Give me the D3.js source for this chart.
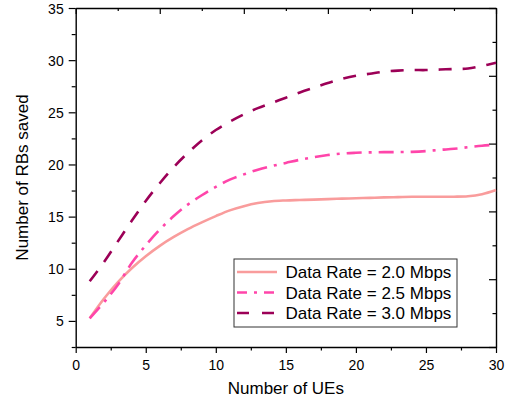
<!DOCTYPE html>
<html>
<head>
<meta charset="utf-8">
<script src="https://cdn.jsdelivr.net/npm/d3@7"></script>
<style>
  body { margin: 0; background: #fff; }
  text { font-family: "Liberation Sans", Arial, sans-serif; fill: #000; }
</style>
</head>
<body>
<svg id="chart" width="509" height="402"></svg>
<script>
// number of UEs
var ues = d3.range(1, 31);

// RBs saved, one array per data rate
var rate20 = [5.25, 7.1, 8.7, 10.05, 11.2, 12.2, 13.05, 13.8, 14.45, 15.05,
  15.6, 16.0, 16.3, 16.48, 16.55, 16.59, 16.63, 16.68, 16.72, 16.76,
  16.8, 16.84, 16.87, 16.9, 16.91, 16.91, 16.91, 16.95, 17.15, 17.55];
var rate25 = [5.25, 6.75, 8.45, 10.55, 12.25, 13.75, 15.05, 16.15, 17.05, 17.85,
  18.55, 19.05, 19.5, 19.85, 20.15, 20.45, 20.7, 20.9, 21.05, 21.12,
  21.16, 21.18, 21.19, 21.21, 21.28, 21.4, 21.5, 21.65, 21.8, 21.9];
var rate30 = [8.8, 10.6, 12.6, 14.6, 16.5, 18.2, 19.75, 21.1, 22.3, 23.3,
  24.1, 24.8, 25.4, 25.9, 26.4, 26.9, 27.35, 27.8, 28.2, 28.5,
  28.7, 28.9, 29.0, 29.05, 29.05, 29.1, 29.15, 29.2, 29.45, 29.75];

var seriesNames = ["Data Rate = 2.0 Mbps", "Data Rate = 2.5 Mbps", "Data Rate = 3.0 Mbps"];
var xTicks = [0, 5, 10, 15, 20, 25, 30];
var yTicks = [5, 10, 15, 20, 25, 30, 35];

var series = [
  { name: seriesNames[0], values: rate20, color: "#f99c9c", dash: null },
  { name: seriesNames[1], values: rate25, color: "#ff45aa", dash: "15,7,3,7" },
  { name: seriesNames[2], values: rate30, color: "#9c0057", dash: "13,11" }
];

var svg = d3.select("#chart");
var mLeft = 75.7, mRight = 496, mTop = 8, mBottom = 347;

var x = d3.scaleLinear().domain([0, 30]).range([mLeft, mRight]);
var y = d3.scaleLinear().domain([2.5, 35]).range([mBottom, mTop]);

// opposite axes have 10 divisions of their own
var xTop = d3.scaleLinear().domain([0, 10]).range([mLeft, mRight]);
var yRight = d3.scaleLinear().domain([0, 10]).range([mBottom, mTop]);

var axisColor = "#000";

// bottom axis
var gx = svg.append("g").attr("transform", "translate(0," + mBottom + ")");
gx.call(d3.axisBottom(x).tickValues(d3.range(0, 30.1, 2.5)).tickSize(3.5).tickSizeOuter(0).tickFormat(""));
gx.selectAll(".tick").filter(d => xTicks.includes(d)).select("line").attr("y2", 6);
gx.selectAll(".tick").filter(d => xTicks.includes(d)).append("text")
  .attr("y", 23).attr("text-anchor", "middle").style("font-size", "14px")
  .text(d => d);

// left axis
var gy = svg.append("g").attr("transform", "translate(" + mLeft + ",0)");
gy.call(d3.axisLeft(y).tickValues(d3.range(2.5, 35.1, 2.5)).tickSize(4).tickSizeOuter(0).tickFormat(""));
gy.selectAll(".tick").filter(d => yTicks.includes(d)).select("line").attr("x2", -7);
gy.selectAll(".tick").filter(d => yTicks.includes(d)).append("text")
  .attr("x", -12).attr("dy", "0.36em").attr("text-anchor", "end").style("font-size", "14px")
  .text(d => d);

// top axis, ticks inward
var gt = svg.append("g").attr("transform", "translate(0," + mTop + ")");
gt.call(d3.axisBottom(xTop).ticks(10).tickSize(3).tickSizeOuter(0).tickFormat(""));
gt.selectAll(".tick").filter(d => d % 2 === 0).select("line").attr("y2", 6);

// right axis, ticks inward
var gr = svg.append("g").attr("transform", "translate(" + mRight + ",0)");
gr.call(d3.axisLeft(yRight).ticks(10).tickSize(3.5).tickSizeOuter(0).tickFormat(""));
gr.selectAll(".tick").filter(d => d % 2 === 0).select("line").attr("x2", -7);

svg.selectAll(".domain").attr("stroke", axisColor).attr("stroke-width", 1.4);
svg.selectAll(".tick line").attr("stroke", axisColor).attr("stroke-width", 1.2);

// axis titles
svg.append("text").attr("x", (mLeft + mRight) / 2).attr("y", 394)
  .attr("text-anchor", "middle").style("font-size", "17px").text("Number of UEs");
svg.append("text").attr("transform", "translate(28," + ((mTop + mBottom) / 2) + ") rotate(-90)")
  .attr("text-anchor", "middle").style("font-size", "17px").text("Number of RBs saved");

// curves
var line = d3.line()
  .x((d, i) => x(ues[i]))
  .y(d => y(d))
  .curve(d3.curveCatmullRom.alpha(0.5));

svg.append("g").selectAll("path").data(series).join("path")
  .attr("d", d => line(d.values))
  .attr("fill", "none")
  .attr("stroke", d => d.color)
  .attr("stroke-width", 2.6)
  .attr("stroke-dasharray", d => d.dash);

// legend
var legend = svg.append("g");
legend.append("rect").attr("x", 234).attr("y", 259).attr("width", 223).attr("height", 68)
  .attr("fill", "#fff").attr("stroke", "#333").attr("stroke-width", 1);
var items = legend.selectAll("g.item").data(series).join("g")
  .attr("class", "item")
  .attr("transform", (d, i) => "translate(0," + (272 + i * 20.5) + ")");
items.append("line").attr("x1", 237).attr("x2", 277).attr("y1", 0).attr("y2", 0)
  .attr("stroke", d => d.color).attr("stroke-width", 2.6)
  .attr("stroke-dasharray", (d, i) => i === 1 ? "10,7,3,7" : (i === 2 ? "12,13" : null));
items.append("text").attr("x", 285.5).attr("y", 6).style("font-size", "17px").text(d => d.name);
</script>
</body>
</html>
